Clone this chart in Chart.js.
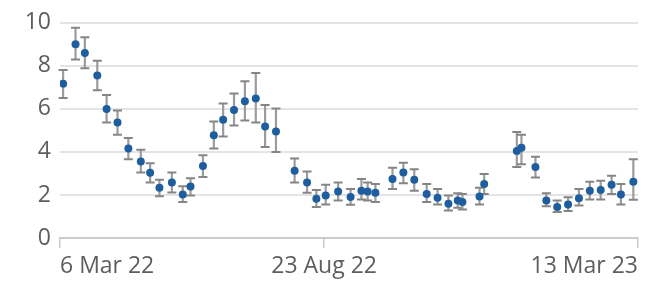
<!DOCTYPE html>
<html>
<head>
<meta charset="utf-8">
<script src="https://cdn.jsdelivr.net/npm/chart.js@4/dist/chart.umd.min.js"></script>
<style>
  html, body { margin: 0; padding: 0; background: #ffffff; }
  #wrap { width: 655px; height: 283px; position: relative; }
</style>
</head>
<body>
<div id="wrap"><canvas id="c" width="655" height="283"></canvas></div>
<script>
const dates = [
  "2022-03-08","2022-03-16","2022-03-22","2022-03-30","2022-04-05","2022-04-12","2022-04-19","2022-04-27",
  "2022-05-03","2022-05-09","2022-05-17","2022-05-24","2022-05-29","2022-06-06","2022-06-13","2022-06-19",
  "2022-06-26","2022-07-03","2022-07-10","2022-07-16","2022-07-23","2022-08-04","2022-08-12","2022-08-18",
  "2022-08-24","2022-09-01","2022-09-09","2022-09-16","2022-09-20","2022-09-25","2022-10-06","2022-10-13",
  "2022-10-20","2022-10-28","2022-11-04","2022-11-11","2022-11-17","2022-11-20","2022-12-01","2022-12-04",
  "2022-12-25","2022-12-28","2023-01-06","2023-01-13","2023-01-20","2023-01-27","2023-02-03","2023-02-10",
  "2023-02-17","2023-02-24","2023-03-02","2023-03-10"
];
// Central estimates
const values = [
  7.17,9.00,8.60,7.55,6.00,5.37,4.16,3.55,
  3.03,2.33,2.58,2.02,2.39,3.35,4.77,5.49,
  5.95,6.36,6.48,5.18,4.95,3.12,2.58,1.82,
  1.97,2.16,1.90,2.20,2.16,2.10,2.74,3.04,
  2.71,2.05,1.87,1.59,1.74,1.67,1.93,2.51,
  4.04,4.19,3.30,1.74,1.44,1.56,1.85,2.20,
  2.23,2.48,2.02,2.61
];
// Lower bounds of the intervals
const lower = [
  6.51,8.29,7.89,6.87,5.37,4.80,3.66,3.04,
  2.58,1.94,2.12,1.67,1.97,2.84,4.16,4.72,
  5.23,5.46,5.37,4.23,4.00,2.58,2.10,1.44,
  1.56,1.74,1.55,1.79,1.74,1.67,2.28,2.54,
  2.20,1.67,1.56,1.28,1.41,1.33,1.56,2.05,
  3.30,3.43,2.81,1.47,1.21,1.25,1.51,1.79,
  1.79,2.05,1.56,1.78
];
// Upper bounds of the intervals
const upper = [
  7.81,9.77,9.33,8.24,6.64,5.93,4.65,4.10,
  3.47,2.71,3.04,2.40,2.78,3.85,5.41,6.25,
  6.71,7.28,7.67,6.18,6.02,3.70,3.09,2.23,
  2.48,2.58,2.28,2.74,2.58,2.51,3.27,3.50,
  3.20,2.51,2.28,1.97,2.08,2.04,2.33,2.97,
  4.92,4.80,3.78,2.08,1.74,1.89,2.28,2.61,
  2.66,2.89,2.51,3.66
];
// X axis tick dates and labels
const tickDates = ["2022-03-06","2022-08-23","2023-03-13"];
const tickLabels = ["6 Mar 22","23 Aug 22","13 Mar 23"];
// Y axis range
const yMin = 0, yMax = 10, yStep = 2;

const DAY = 86400000;
const origin = Date.parse(tickDates[0]);
const toDay = d => Math.round((Date.parse(d) - origin) / DAY);
const tickDays = tickDates.map(toDay);

const points = dates.map((d, i) => ({ x: toDay(d), y: values[i], lo: lower[i], hi: upper[i] }));

const errorBars = {
  id: 'errorBars',
  beforeDatasetsDraw(chart) {
    const { ctx, scales: { x, y } } = chart;
    const ds = chart.data.datasets[0].data;
    ctx.save();
    ds.forEach(p => {
      const px = x.getPixelForValue(p.x);
      const pLo = y.getPixelForValue(p.lo);
      const pHi = y.getPixelForValue(p.hi);
      ctx.strokeStyle = '#9c9c9c';
      ctx.lineWidth = 2.2;
      ctx.beginPath();
      ctx.moveTo(px, pLo);
      ctx.lineTo(px, pHi);
      ctx.stroke();
      ctx.strokeStyle = '#858585';
      ctx.lineWidth = 2;
      ctx.beginPath();
      ctx.moveTo(px - 4.5, pLo); ctx.lineTo(px + 4.5, pLo);
      ctx.moveTo(px - 4.5, pHi); ctx.lineTo(px + 4.5, pHi);
      ctx.stroke();
    });
    ctx.restore();
  }
};

new Chart(document.getElementById('c'), {
  type: 'scatter',
  data: {
    datasets: [{
      data: points,
      backgroundColor: '#1f5e9e',
      borderColor: '#1f5e9e',
      borderWidth: 0,
      pointRadius: 4,
      pointHoverRadius: 4
    }]
  },
  plugins: [errorBars],
  options: {
    responsive: false,
    animation: false,
    events: [],
    layout: { padding: { top: 20, right: 17, bottom: 0, left: 0 } },
    plugins: { legend: { display: false }, tooltip: { enabled: false } },
    scales: {
      x: {
        type: 'linear',
        min: tickDays[0],
        max: tickDays[tickDays.length - 1],
        afterBuildTicks: s => { s.ticks = tickDays.map(v => ({ value: v })); },
        afterFit: s => { s.height = 45; },
        border: { display: true, color: '#cccccc', width: 2 },
        grid: { display: true, drawOnChartArea: false, drawTicks: true, tickLength: 10, color: '#cccccc', lineWidth: 1.5 },
        ticks: {
          autoSkip: false,
          maxRotation: 0,
          align: 'inner',
          padding: 5,
          color: '#5e5e5e',
          font: { family: 'Open Sans', size: 23 },
          callback: v => { const i = tickDays.indexOf(v); return i >= 0 ? tickLabels[i] : ''; }
        }
      },
      y: {
        min: yMin,
        max: yMax,
        afterFit: s => { s.width = 60; },
        border: { display: false },
        grid: { color: ctx => ctx.tick.value === 0 ? 'rgba(0,0,0,0)' : '#e4e4e4', lineWidth: 2, drawTicks: false },
        ticks: {
          stepSize: yStep,
          padding: 9,
          color: '#5e5e5e',
          font: { family: 'Open Sans', size: 23 }
        }
      }
    }
  }
});
</script>
</body>
</html>
